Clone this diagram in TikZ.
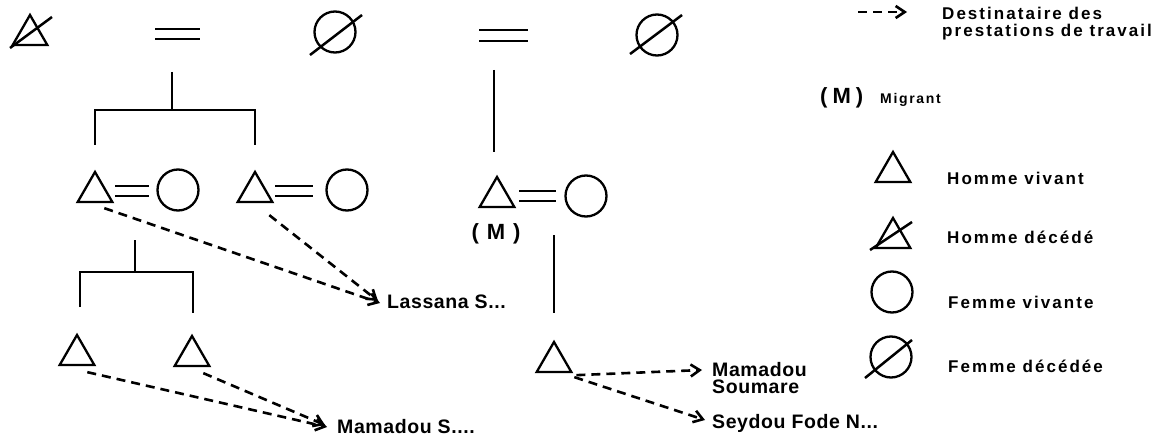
\documentclass[tikz,border=0pt]{standalone}
\usepackage{fontspec}
\setmainfont{Liberation Sans}
\newfontfamily\labfont{Liberation Sans}[LetterSpace=3]
\newfontfamily\legfont{Liberation Sans}[LetterSpace=12]
\usetikzlibrary{shapes.geometric,arrows.meta}
\begin{document}
\begin{tikzpicture}[x=1pt,y=-1pt,
  kin/.style={line width=2.3pt},
  man/.style={draw,line width=2.3pt,regular polygon,regular polygon sides=3,minimum size=40pt,inner sep=0pt},
  woman/.style={draw,line width=2.3pt,circle,minimum size=41pt,inner sep=0pt},
  dead/.style={line width=2.5pt},
  labor/.style={line width=2.6pt,dash pattern=on 9pt off 6pt,-{Straight Barb[length=9pt,width=12pt,line width=2.6pt]}},
  rcpt/.style={anchor=base west,inner sep=0pt,font=\labfont\bfseries\fontsize{19.5}{17.5}\selectfont,align=left},
  legtxt/.style={anchor=base west,inner sep=0pt,font=\legfont\bfseries\fontsize{17}{17}\selectfont,align=left},
  mig/.style={inner sep=0pt,font=\bfseries\fontsize{22}{22}\selectfont}]
\useasboundingbox (0,0) rectangle (1152,441);

% --- eldest generation: deceased man, two deceased women ---
\node[man] (g1) at (30,35) {};
\draw[dead] (10,48) -- (52,17);
\draw[kin] (155,29) -- (200,29) (155,39) -- (200,39);
\node[woman] (g2) at (335,32) {};
\draw[dead] (310,55) -- (362,15);
\draw[kin] (479,30) -- (528,30) (479,41) -- (528,41);
\node[woman] (g3) at (657,35) {};
\draw[dead] (630,54) -- (682,15);

% descent from the first marriage
\draw[kin] (172,72) -- (172,110);
\draw[kin] (95,145) -- (95,110) -- (255,110) -- (255,145);

% descent from the second marriage
\draw[kin] (494,70) -- (494,152);

% --- second generation couples ---
\node[man] (a1) at (95,192) {};
\draw[kin] (115,186) -- (149,186) (115,196) -- (149,196);
\node[woman] (a1w) at (178,190) {};

\node[man] (a2) at (255,192) {};
\draw[kin] (275,186) -- (313,186) (275,196) -- (313,196);
\node[woman] (a2w) at (347,190) {};

\node[man] (m) at (497,197) {};
\draw[kin] (519,191) -- (556,191) (519,201) -- (556,201);
\node[woman] (mw) at (586,196) {};
\node[mig] (mlab) at (496,234) {(\hspace{8pt}M\hspace{8pt})};

% descent from the first couple
\draw[kin] (135,240) -- (135,272);
\draw[kin] (80,307) -- (80,272) -- (193,272) -- (193,313);

% descent from the migrant
\draw[kin] (554,235) -- (554,313);

% --- third generation ---
\node[man] (c1) at (77,355) {};
\node[man] (c2) at (192,356) {};
\node[man] (c3) at (554,362) {};

% --- recipients of labour services ---
\node[rcpt] (las) at (387,308) {Lassana S...};
\node[rcpt] (mam) at (337,433) {Mamadou S....};
\node[rcpt,anchor=north west] (mso) at (712,362) {Mamadou\\Soumare};
\node[rcpt] (sey) at (712,428) {Seydou Fode N...};
\coordinate (lasin) at (380,303);
\coordinate (mamin) at (327,427);
\coordinate (msoin) at (702,370);
\coordinate (seyin) at (705,420);

\draw[labor] ([shift={(-10,5)}]a1.corner 3) -- (lasin);
\draw[labor] ([shift={(-5,12)}]a2.corner 3) -- ([shift={(-2,-2)}]lasin);
\draw[labor] ([shift={(-9,6)}]c1.corner 3) -- (mamin);
\draw[labor] ([shift={(-8,6)}]c2.corner 3) -- ([shift={(-2,-2)}]mamin);
\draw[labor] ([shift={(3,2)}]c3.corner 3) -- (msoin);
\draw[labor] ([shift={(1,4)}]c3.corner 3) -- (seyin);

% --- legend ---
\coordinate (k0) at (858,12);
\coordinate (k1) at (907,12);
\draw[labor] (k0) -- (k1);
\node[legtxt] (kl) at (942,37) {Destinataire des\\prestations de travail};

\node[mig,anchor=west] (km) at (820,98) {(\hspace{5pt}M\hspace{5pt})};
\node[legtxt,font=\legfont\bfseries\fontsize{14}{15}\selectfont] (kmt) at (880,104) {Migrant};

\node[man] (kh) at (893,172) {};
\node[legtxt] (kht) at (947,185) {Homme vivant};

\node[man] (kd) at (893,238) {};
\draw[dead] (870,250) -- (912,222);
\node[legtxt] (kdt) at (947,243) {Homme décédé};

\node[woman] (kw) at (892,292) {};
\node[legtxt] (kwt) at (948,308) {Femme vivante};

\node[woman] (kx) at (891,357) {};
\draw[dead] (865,378) -- (912,340);
\node[legtxt] (kxt) at (948,372) {Femme décédée};
\end{tikzpicture}
\end{document}
